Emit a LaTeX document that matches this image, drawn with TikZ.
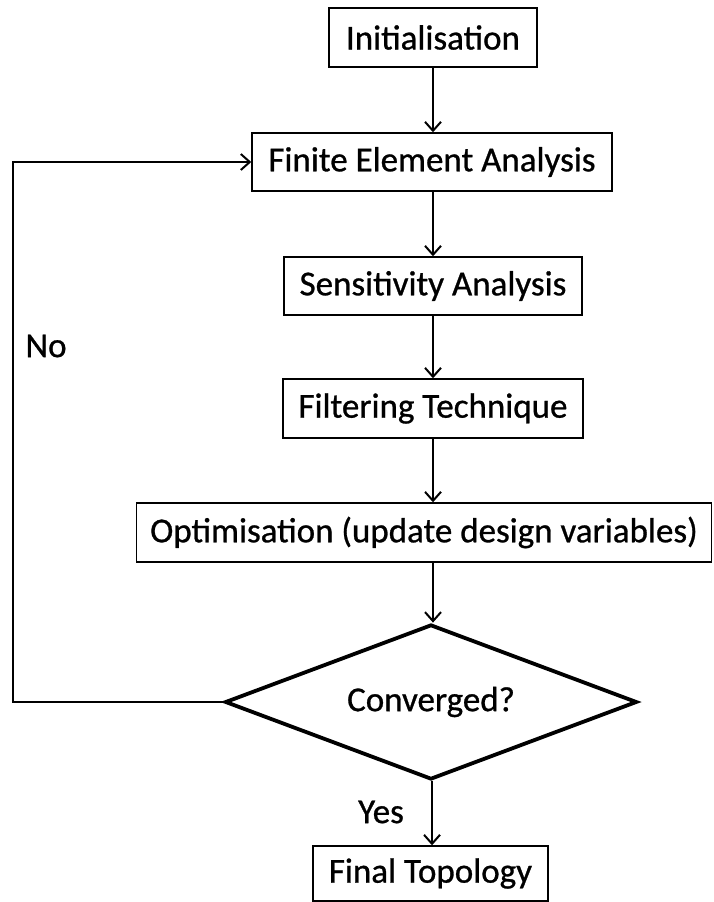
\documentclass[tikz,border=0pt]{standalone}
\usepackage{fontspec}
\setmainfont{Carlito}
\newfontfamily\chartfont{Carlito}[FakeBold=0.8]
\usetikzlibrary{shapes,arrows.meta}

\begin{document}
\begin{tikzpicture}[x=1pt,y=-1pt]
        \tikzstyle{block}=[rectangle,draw,line width=1.4pt,inner sep=0pt,font=\chartfont\fontsize{35}{40}\selectfont]
        \tikzstyle{decision}=[diamond,draw,line width=3.8pt,inner sep=0pt,aspect=2.66,minimum width=412pt,minimum height=155pt,font=\chartfont\fontsize{35}{40}\selectfont]
        \tikzstyle{line}=[draw,line width=2pt,-{Straight Barb[length=9pt,width=16pt,line width=2pt]}]
        \tikzstyle{label}=[font=\chartfont\fontsize{35}{40}\selectfont]
        \useasboundingbox (0,0) rectangle (713,902);
        \node[block,minimum width=208pt,minimum height=59pt] (init) at (433,37.5) {Initialisation};
        \node[block,minimum width=360pt,minimum height=58pt] (fea) at (432,162) {Finite Element Analysis};
        \node[block,minimum width=298pt,minimum height=58pt] (sens) at (433,286) {Sensitivity Analysis};
        \node[block,minimum width=300pt,minimum height=59pt] (filt) at (433,408.5) {Filtering Technique};
        \node[block,minimum width=575pt,minimum height=59pt] (opt) at (424,532.5) {Optimisation (update design variables)};
        \node[decision] (conv) at (431,702) {Converged?};
        \node[block,minimum width=235pt,minimum height=55pt] (final) at (430.5,873.5) {Final Topology};
        \node[label,anchor=west] (no) at (22,346) {No};
        \node[label] (yes) at (381,812) {Yes};
        \coordinate (back) at (13,702);
        \draw[line] (init.south -| 433,0) -- (fea.north -| 433,0);
        \draw[line] (fea.south -| 433,0) -- (sens.north -| 433,0);
        \draw[line] (sens.south -| 433,0) -- (filt.north -| 433,0);
        \draw[line] (filt.south -| 433,0) -- (opt.north -| 433,0);
        \draw[line] (opt.south -| 433,0) -- (conv.north -| 433,0);
        \draw[line] (conv.south -| 432,0) -- (final.north -| 432,0);
        \draw[line] (conv.west) -- (back) |- (fea.west);
\end{tikzpicture}
\end{document}
